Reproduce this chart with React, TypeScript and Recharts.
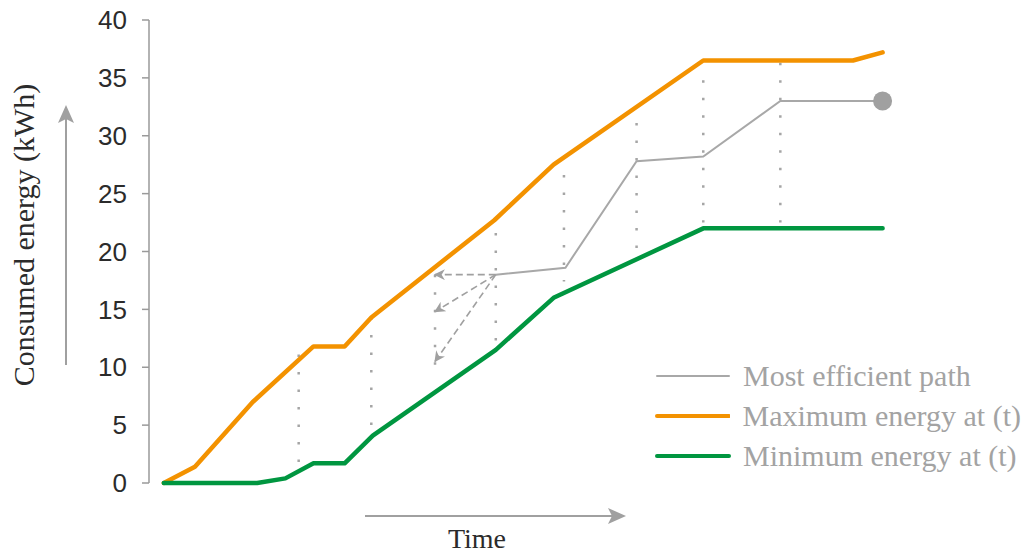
import React from 'react';
import { ComposedChart, Line, XAxis, YAxis, ReferenceLine, ReferenceDot, Legend } from 'recharts';

// time axis is unitless (0..50), energy in kWh
const yTicks = [0, 5, 10, 15, 20, 25, 30, 35, 40];

const maxTime = [1, 3.1, 7, 11.1, 13.2, 15, 23.3, 27.3, 37.4, 47.5, 49.5];
const maxEnergy = [0, 1.4, 7.0, 11.8, 11.8, 14.3, 22.7, 27.5, 36.5, 36.5, 37.2];

const minTime = [1, 7.3, 9.2, 11.1, 13.2, 15.1, 23.4, 27.3, 37.4, 49.5];
const minEnergy = [0, 0, 0.4, 1.7, 1.7, 4.1, 11.5, 16.0, 22.0, 22.0];

const pathTime = [23.4, 28.1, 32.9, 37.4, 42.6, 49.5];
const pathEnergy = [18.0, 18.6, 27.8, 28.2, 33.0, 33.0];

// dotted time steps: top and bottom of each range
const stepTime = [10.1, 15.0, 19.3, 23.4, 28.0, 32.9, 37.4, 42.6];
const stepTop = [11.1, 14.3, 18.0, 21.6, 26.6, 31.1, 34.8, 36.3];
const stepBottom = [1.7, 4.8, 9.3, 12.1, 17.4, 20.3, 22.5, 22.5];

// candidate moves from the current state
const choiceFromTime = 23.4;
const choiceFromEnergy = 18.0;
const choiceToTime = [19.3, 19.3, 19.3];
const choiceToEnergy = [18.0, 14.8, 10.5];

const ORANGE = '#f39200';
const GREEN = '#009640';
const GRAY = '#a8a8a8';

const legendItems = [
  { name: 'Most efficient path', color: GRAY, width: 2 },
  { name: 'Maximum energy at (t)', color: ORANGE, width: 4 },
  { name: 'Minimum energy at (t)', color: GREEN, width: 4 },
];

const toPoints = (ts: number[], es: number[]) => ts.map((t, i) => ({ t, e: es[i] }));

const maxData = toPoints(maxTime, maxEnergy);
const minData = toPoints(minTime, minEnergy);
const pathData = toPoints(pathTime, pathEnergy);

const serif = '"Liberation Serif", "DejaVu Serif", serif';

const renderLegend = () => (
  <div style={{ fontFamily: serif, fontSize: 30, color: '#a3a3a3', lineHeight: '40px' }}>
    {legendItems.map((item) => (
      <div key={item.name} style={{ display: 'flex', alignItems: 'center', height: 40 }}>
        <svg width={76} height={10}>
          <line x1={2} x2={74} y1={5} y2={5} stroke={item.color} strokeWidth={item.width} strokeLinecap="round" />
        </svg>
        <span style={{ marginLeft: 12, whiteSpace: 'nowrap' }}>{item.name}</span>
      </div>
    ))}
  </div>
);

export default function App() {
  return (
    <div style={{ position: 'absolute', left: 0, top: 0, width: 1022, height: 556, background: '#fff' }}>
      <ComposedChart width={1022} height={556} margin={{ top: 20, right: 132, bottom: 73, left: 0 }}>
        <defs>
          <marker id="choiceHead" viewBox="0 0 10 10" refX="9" refY="5" markerWidth="11" markerHeight="11"
            markerUnits="userSpaceOnUse" orient="auto">
            <path d="M0,0 L10,5 L0,10 L3,5 z" fill="#a0a0a0" />
          </marker>
        </defs>
        <XAxis type="number" dataKey="t" domain={[0, 50]} hide />
        <YAxis
          type="number"
          domain={[0, 40]}
          ticks={yTicks}
          width={149}
          axisLine={{ stroke: '#9a9a9a', strokeWidth: 1.5 }}
          tickLine={{ stroke: '#9a9a9a', strokeWidth: 1.5 }}
          tickSize={7}
          tickMargin={15}
          tick={{ fill: '#2b2b2b', fontSize: 26, fontFamily: '"Liberation Sans", Arial, sans-serif' }}
        />
        {stepTime.map((t, i) => (
          <ReferenceLine
            key={'step' + i}
            segment={[{ x: t, y: stepTop[i] }, { x: t, y: stepBottom[i] }]}
            stroke="#a5a5a5"
            strokeWidth={2.5}
            strokeDasharray="2.5 15"
          />
        ))}
        {choiceToTime.map((t, i) => (
          <ReferenceLine
            key={'choice' + i}
            segment={[{ x: choiceFromTime, y: choiceFromEnergy }, { x: t, y: choiceToEnergy[i] }]}
            stroke="#a0a0a0"
            strokeWidth={1.6}
            strokeDasharray="7 4"
            markerEnd="url(#choiceHead)"
          />
        ))}
        <Line data={pathData} dataKey="e" type="linear" stroke={GRAY} strokeWidth={2} dot={false} isAnimationActive={false} />
        <Line data={maxData} dataKey="e" type="linear" stroke={ORANGE} strokeWidth={4.5} dot={false}
          strokeLinecap="round" strokeLinejoin="round" isAnimationActive={false} />
        <Line data={minData} dataKey="e" type="linear" stroke={GREEN} strokeWidth={4.5} dot={false}
          strokeLinecap="round" strokeLinejoin="round" isAnimationActive={false} />
        <ReferenceDot x={49.5} y={33} r={9.5} fill="#a0a0a0" stroke="none" />
        <Legend
          layout="vertical"
          align="center"
          verticalAlign="middle"
          content={renderLegend}
          wrapperStyle={{ left: 655, top: 356, width: 366 }}
        />
      </ComposedChart>
      <svg width={1022} height={556} style={{ position: 'absolute', left: 0, top: 0, pointerEvents: 'none' }}>
        <line x1={365} y1={516} x2={612} y2={516} stroke="#a0a0a0" strokeWidth={2} />
        <path d="M626,516 L608,508 L612,516 L608,524 z" fill="#a0a0a0" />
        <text x={477} y={548} textAnchor="middle" fontFamily={serif} fontSize={28} fill="#2b2b2b">Time</text>
        <line x1={66} y1={365} x2={66} y2={118} stroke="#a0a0a0" strokeWidth={2} />
        <path d="M66,105 L58,123 L66,119 L74,123 z" fill="#a0a0a0" />
        <text x={34} y={235} transform="rotate(-90 34 235)" textAnchor="middle" fontFamily={serif} fontSize={30} fill="#2b2b2b">
          Consumed energy (kWh)
        </text>
      </svg>
    </div>
  );
}
